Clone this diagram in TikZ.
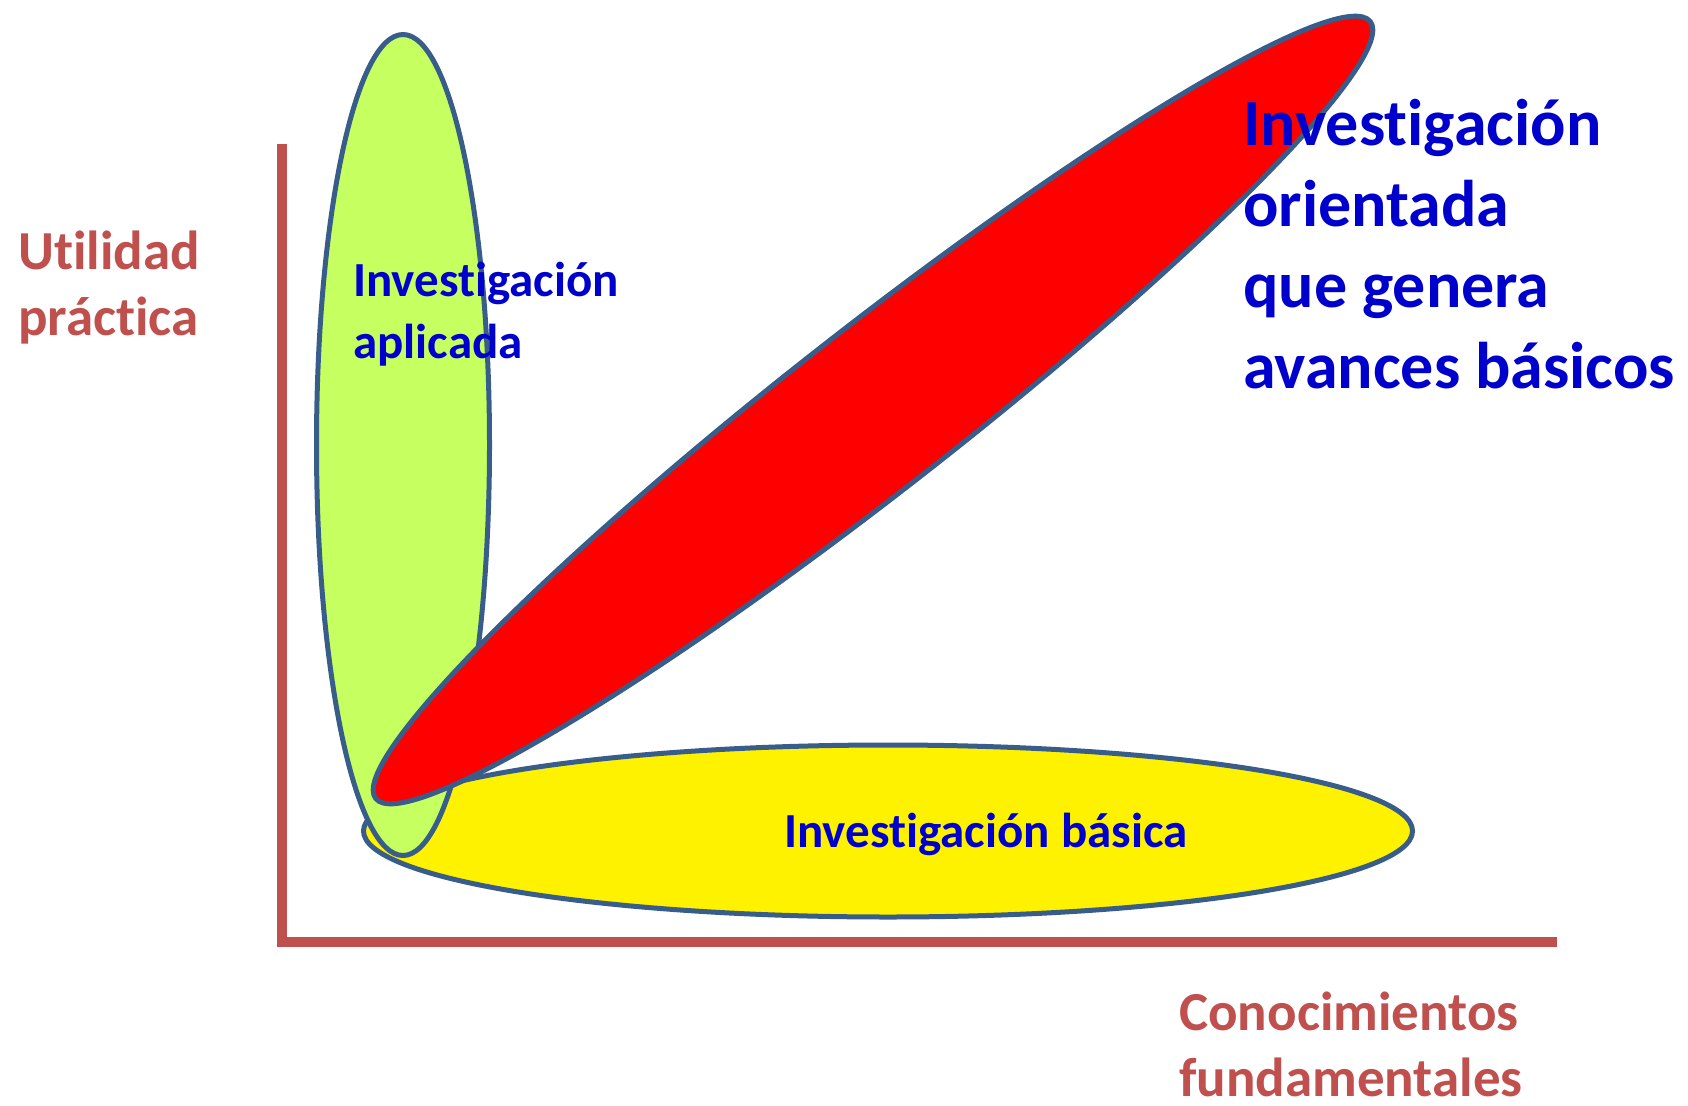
\documentclass[tikz,border=0pt]{standalone}
\usepackage{fontspec}
\setmainfont{Carlito}[Ligatures=NoCommon]
\usepackage{xcolor}
\usepackage{tikz}
\usetikzlibrary{shapes.geometric}

\definecolor{axisred}{HTML}{C0504D}
\definecolor{rimblue}{HTML}{385D8A}
\definecolor{textblue}{HTML}{0000CC}
\definecolor{limegreen}{HTML}{C6FF60}

\begin{document}
\begin{tikzpicture}[x=1pt,y=-1pt,
    zone/.style={ellipse, draw=rimblue, line width=5pt, inner sep=0pt},
    axislabel/.style={align=left, anchor=west, inner sep=0pt,
        text=axisred, font=\bfseries\fontsize{55}{66}\selectfont},
    zonelabel/.style={align=left, anchor=west, inner sep=0pt,
        text=textblue, font=\bfseries\fontsize{49}{62}\selectfont}]

    \useasboundingbox (0,0) rectangle (1688,1105);

    % -- Axes --
    \coordinate (ytop) at (282,144);
    \coordinate (orig) at (282,942);
    \coordinate (xend) at (1557,942);
    \draw[axisred, line width=10pt] (ytop) -- (orig) -- (xend);

    % -- Zones (yellow, green, red on top) --
    % basic research along the x axis
    \node[zone, fill=yellow, minimum width=1049pt, minimum height=172pt]
        (basica) at (888,831) {};

    % applied research along the y axis
    \node[zone, fill=limegreen, minimum width=173pt, minimum height=821pt]
        (aplic) at (403,445) {};

    % oriented research on the diagonal
    \node[zone, fill=red, minimum width=1262pt, minimum height=163pt,
          rotate=38] (orient) at (873,410) {};

    % -- Labels --
    \node[axislabel] (util) at (18,288) {Utilidad\\práctica};
    \node[axislabel] (conoc) at (1179,1044) {Conocimientos\\fundamentales};

    \node[zonelabel] (aplictxt) at (353,314) {Investigación\\aplicada};
    \node[zonelabel] (basictxt) at (784,834) {Investigación básica};

    % big label beside the red zone
    \node[zonelabel, font=\bfseries\fontsize{66}{81}\selectfont]
        (orienttxt) at (1243,244)
        {Investigación\\orientada\\que genera\\avances básicos};

\end{tikzpicture}
\end{document}
